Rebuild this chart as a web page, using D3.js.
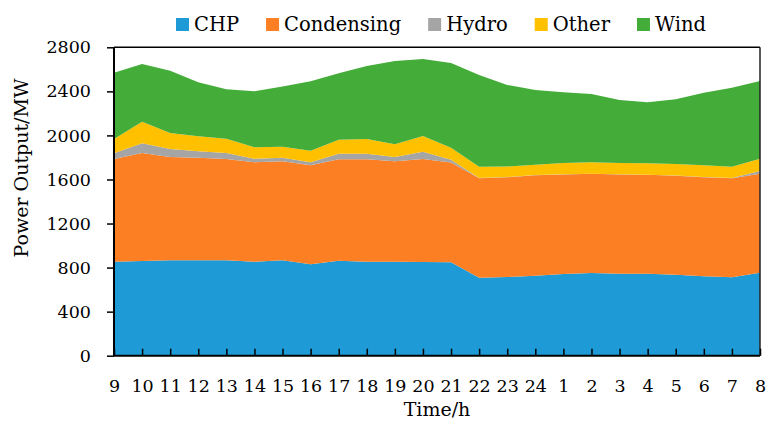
<!DOCTYPE html>
<html>
<head>
<meta charset="utf-8">
<script src="https://cdn.jsdelivr.net/npm/d3@7"></script>
<style>
  html, body { margin: 0; padding: 0; background: #fff; }
  svg { display: block; }
  text { font-family: "DejaVu Serif", serif; fill: #000; }
</style>
</head>
<body>
<svg id="chart" width="767" height="422"></svg>
<script>
// ---- data ----
const hours = ["9","10","11","12","13","14","15","16","17","18","19","20","21","22","23","24","1","2","3","4","5","6","7","8"];
const seriesNames = ["CHP", "Condensing", "Hydro", "Other", "Wind"];
const chp        = [853,860,866,866,866,853,866,830,863,853,853,851,848,708,714,726,742,751,745,745,735,721,712,754];
const condensing = [933,980,938,932,920,903,899,899,920,930,912,935,905,903,906,913,903,900,900,897,898,899,899,899];
const hydro      = [52,88,73,58,54,33,33,27,51,51,39,66,27,2,2,2,2,2,2,2,2,2,2,24];
const other      = [129,197,145,136,130,103,100,105,127,133,115,143,109,103,96,93,103,103,103,103,105,107,103,112];
const wind       = [603,523,566,490,449,508,545,630,603,663,757,699,769,833,740,678,641,620,572,553,588,659,717,705];
const yTicks = [0,400,800,1200,1600,2000,2400,2800];
const colors = ["#1e9bd7", "#fd7f24", "#a5a5a5", "#ffc000", "#44ad3a"];

const table = hours.map((h, i) => ({
  hour: h, CHP: chp[i], Condensing: condensing[i], Hydro: hydro[i], Other: other[i], Wind: wind[i]
}));

// ---- layout ----
const svg = d3.select("#chart");
const L = 114, R = 760, T = 47.3, B = 355.7;

const x = d3.scalePoint().domain(hours).range([L, R]);
const y = d3.scaleLinear().domain([0, 2800]).range([B, T]);

const stack = d3.stack().keys(seriesNames);
const layers = stack(table);

const area = d3.area()
  .x(d => x(d.data.hour))
  .y0(d => y(d[0]))
  .y1(d => y(d[1]));

svg.append("g").selectAll("path")
  .data(layers)
  .join("path")
  .attr("d", area)
  .attr("fill", (d, i) => colors[i])
  .attr("stroke", "none");

// frame (top & right)
svg.append("line").attr("x1", L).attr("x2", R).attr("y1", T).attr("y2", T)
  .attr("stroke", "#000").attr("stroke-width", 1.5);
svg.append("line").attr("x1", R).attr("x2", R).attr("y1", T).attr("y2", B)
  .attr("stroke", "#222").attr("stroke-width", 1.5);

// y axis
const yAxis = svg.append("g").attr("transform", `translate(${L},0)`)
  .call(d3.axisLeft(y).tickValues(yTicks).tickSize(7).tickPadding(16).tickFormat(d3.format("d")));
yAxis.select(".domain").attr("stroke", "#000").attr("stroke-width", 2).attr("d", `M0,${B}V${T}`);
yAxis.selectAll(".tick line").attr("stroke", "#000").attr("stroke-width", 1.5);
yAxis.selectAll(".tick text").style("font-size", "17.5px").style("font-family", "DejaVu Serif, serif").attr("fill", "#000");

// x axis
const xAxis = svg.append("g").attr("transform", `translate(0,${B})`)
  .call(d3.axisBottom(x).tickSize(-7).tickPadding(0));
xAxis.select(".domain").attr("stroke", "#000").attr("stroke-width", 2).attr("d", `M${L - 1},0H${R}`);
xAxis.selectAll(".tick line").attr("stroke", "#000").attr("stroke-width", 1.5);
xAxis.selectAll(".tick text").style("font-size", "17.5px").style("font-family", "DejaVu Serif, serif")
  .attr("fill", "#000").attr("y", 36).attr("dy", 0);

// axis titles
svg.append("text").attr("x", (L + R) / 2).attr("y", 416).attr("text-anchor", "middle")
  .style("font-size", "19px").text("Time/h");
svg.append("text").attr("transform", `translate(28,168) rotate(-90)`)
  .attr("text-anchor", "middle").style("font-size", "19px").text("Power Output/MW");

// legend
const lg = svg.append("g");
let lx = 176;
seriesNames.forEach((name, i) => {
  lg.append("rect").attr("x", lx).attr("y", 18).attr("width", 13).attr("height", 13).attr("fill", colors[i]);
  const t = lg.append("text").attr("x", lx + 18).attr("y", 31).style("font-size", "19.5px").text(name);
  lx += 18 + t.node().getComputedTextLength() + 27;
});
</script>
</body>
</html>
